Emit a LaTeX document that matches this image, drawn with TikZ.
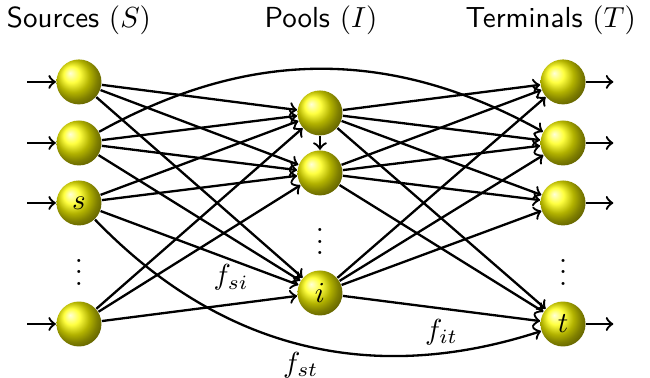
\documentclass[tikz,border=0pt]{standalone}
\usetikzlibrary{positioning}

\begin{document}
\begin{tikzpicture}[
      ball/.style={
        circle, ball color=yellow, minimum size=0.545cm, inner sep=0pt
      },
      gap/.style={inner sep=0pt},
      title/.style={font=\sffamily},
      link/.style={->, thick}
    ]
      \useasboundingbox (0,0) rectangle (7.878,4.581);
      % sources
      \node[ball] (s1) at (0.957,3.588) {};
      \node[ball] (s2) at (0.957,2.848) {};
      \node[ball] (s3) at (0.957,2.121) {$s$};
      \node[ball] (s4) at (0.957,0.654) {};
      \path (s3) -- node[gap] (sd) {$\vdots$} (s4);
      % pools
      \node[ball] (p1) at (3.878,3.212) {};
      \node[ball] (p2) at (3.878,2.485) {};
      \node[ball] (pi) at (3.878,1.030) {$i$};
      \path (p2) -- node[gap] (pd) {$\vdots$} (pi);
      % terminals
      \node[ball] (t1) at (6.824,3.588) {};
      \node[ball] (t2) at (6.824,2.848) {};
      \node[ball] (t3) at (6.824,2.121) {};
      \node[ball] (t4) at (6.824,0.654) {$t$};
      \path (t3) -- node[gap] (td) {$\vdots$} (t4);
      % headings
      \node[title] (hs) at (0.957,4.333) {Sources $(S)$};
      \node[title] (hp) at (3.890,4.333) {Pools $(I)$};
      \node[title, anchor=east] (ht) at (7.83,4.333) {Terminals $(T)$};
      % free ends
      \coordinate[left=0.35cm of s1] (in1); \coordinate[left=0.35cm of s2] (in2);
      \coordinate[left=0.35cm of s3] (in3); \coordinate[left=0.35cm of s4] (in4);
      \coordinate[right=0.33cm of t1] (out1); \coordinate[right=0.33cm of t2] (out2);
      \coordinate[right=0.33cm of t3] (out3); \coordinate[right=0.33cm of t4] (out4);
      \draw[link] (in1)--(s1); \draw[link] (in2)--(s2); \draw[link] (in3)--(s3); \draw[link] (in4)--(s4);
      \draw[link] (t1)--(out1); \draw[link] (t2)--(out2); \draw[link] (t3)--(out3); \draw[link] (t4)--(out4);
      % sources to pools
      \draw[link] (s1)--(p1); \draw[link] (s1)--(p2); \draw[link] (s1)--(pi);
      \draw[link] (s2)--(p1); \draw[link] (s2)--(p2); \draw[link] (s2)--(pi);
      \draw[link] (s3)--(p1); \draw[link] (s3)--(p2);
      \draw[link] (s3)--node[pos=0.66, below=-2pt] (fsi) {$f_{si}$} (pi);
      \draw[link] (s4)--(p1); \draw[link] (s4)--(p2); \draw[link] (s4)--(pi);
      \draw[link] (p1)--(p2);
      % pools to terminals
      \draw[link] (p1)--(t1); \draw[link] (p1)--(t2); \draw[link] (p1)--(t3); \draw[link] (p1)--(t4);
      \draw[link] (p2)--(t1); \draw[link] (p2)--(t2); \draw[link] (p2)--(t3); \draw[link] (p2)--(t4);
      \draw[link] (pi)--(t1); \draw[link] (pi)--(t2); \draw[link] (pi)--(t3);
      \draw[link] (pi)--node[pos=0.5, below] (fit) {$f_{it}$} (t4);
      % bypasses
      \draw[link] (s2) to[bend left=29] (t2);
      \draw[link] (s3) to[bend right=32] node[pos=0.5, below=-1pt] (fst) {$f_{st}$} (t4);
    \end{tikzpicture}
\end{document}
